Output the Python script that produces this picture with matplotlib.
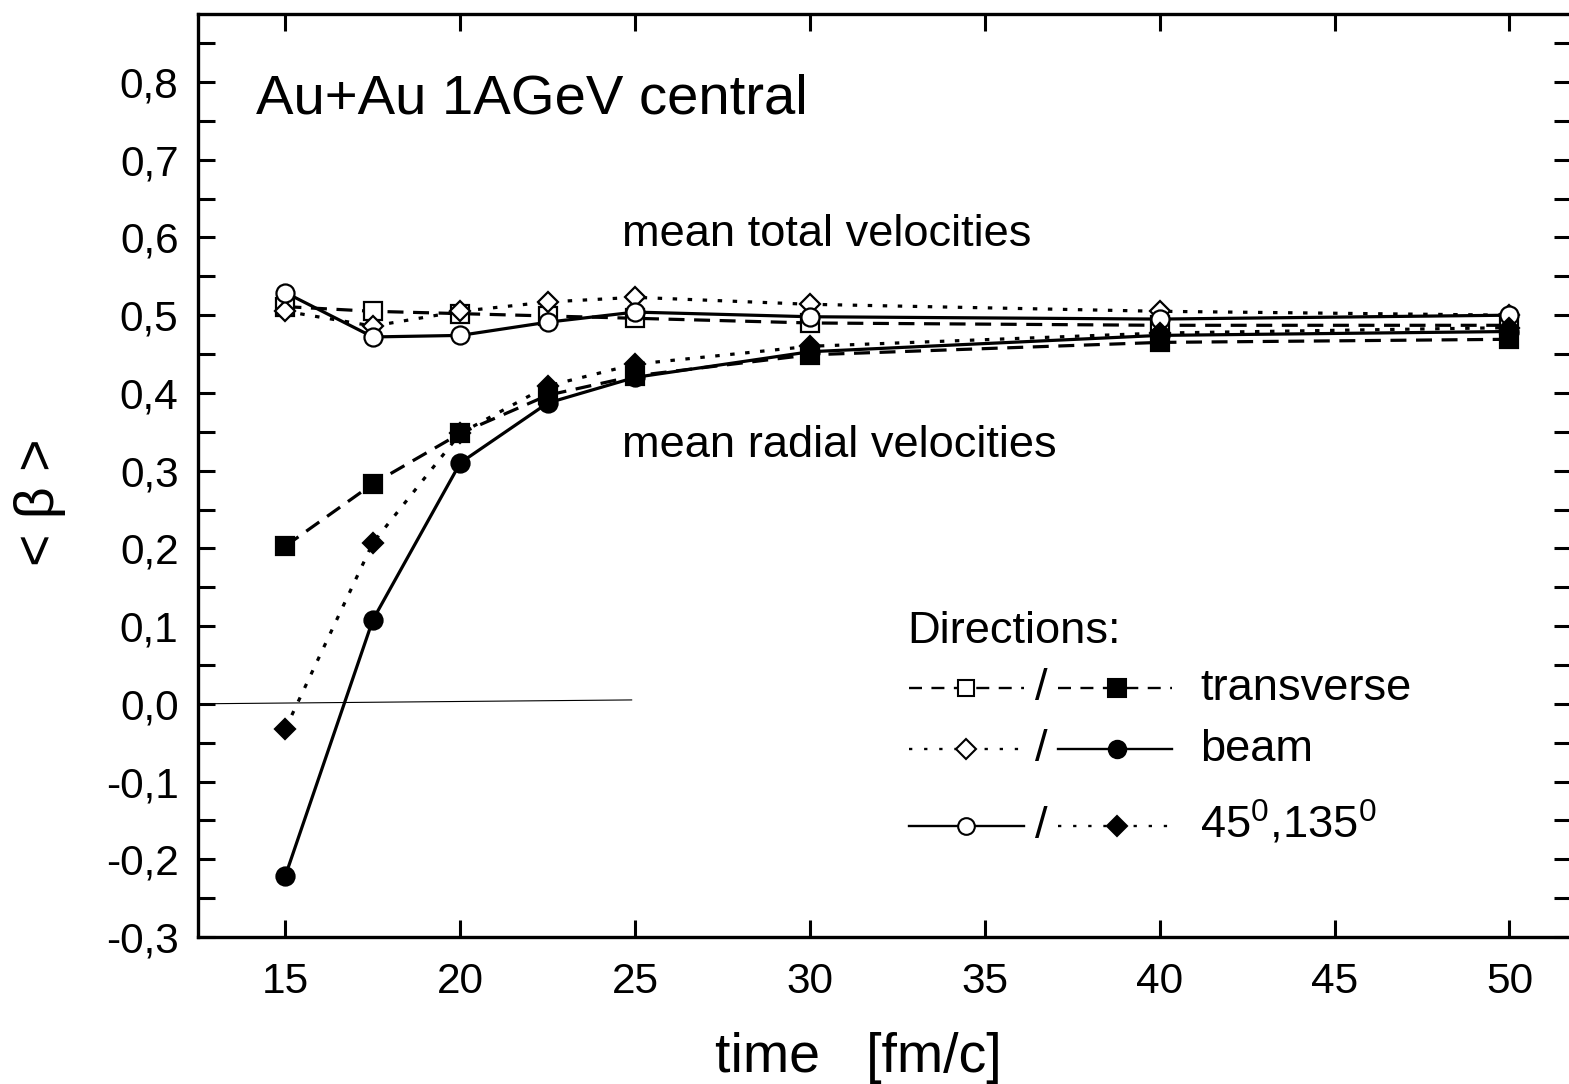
import matplotlib
matplotlib.use("Agg")
import matplotlib.pyplot as plt
from matplotlib.lines import Line2D

plt.rcParams['font.family'] = 'Liberation Sans'
plt.rcParams['mathtext.fontset'] = 'custom'
plt.rcParams['mathtext.rm'] = 'Liberation Sans'
plt.rcParams['mathtext.it'] = 'Liberation Sans'

# time in fm/c
time = [15, 17.5, 20, 22.5, 25, 30, 40, 50]

# mean total velocities (open symbols)
total_transverse = [0.511, 0.505, 0.502, 0.499, 0.496, 0.490, 0.487, 0.487]
total_beam = [0.505, 0.486, 0.505, 0.517, 0.523, 0.514, 0.505, 0.500]
total_45 = [0.529, 0.472, 0.474, 0.491, 0.504, 0.498, 0.495, 0.500]

# mean radial velocities (filled symbols)
radial_transverse = [0.203, 0.283, 0.348, 0.397, 0.422, 0.449, 0.465, 0.469]
radial_beam = [-0.221, 0.108, 0.310, 0.387, 0.420, 0.453, 0.474, 0.479]
radial_45 = [-0.032, 0.207, 0.348, 0.409, 0.437, 0.460, 0.477, 0.484]

# thin reference line near zero
zero_x = [12.5, 24.9]
zero_y = [0.0, 0.005]

xticks = [15, 20, 25, 30, 35, 40, 45, 50]
yticks = [-0.3, -0.2, -0.1, 0.0, 0.1, 0.2, 0.3, 0.4, 0.5, 0.6, 0.7, 0.8]
ytick_labels = ["-0,3", "-0,2", "-0,1", "0,0", "0,1", "0,2", "0,3",
                "0,4", "0,5", "0,6", "0,7", "0,8"]

W, H = 1569, 1084
fig = plt.figure(figsize=(W / 100, H / 100), dpi=100)


def fx(p):
    return p / W


def fy(p):
    return 1 - p / H


ax = fig.add_axes([fx(198), fy(937), (1571 - 198) / W, (937 - 14) / H])

dashed = dict(ls=(0, (5, 3)), lw=2.3, color='k', zorder=2)
dotted = dict(ls=(0, (1.4, 3.3)), lw=2.3, color='k', zorder=2)
solid = dict(ls='-', lw=2.3, color='k', zorder=2)

ax.plot(zero_x, zero_y, color='k', lw=0.8, zorder=1)

ax.plot(time, total_transverse, **dashed)
ax.plot(time, total_beam, **dotted)
ax.plot(time, total_45, **solid)
ax.plot(time, radial_transverse, **dashed)
ax.plot(time, radial_beam, **solid)
ax.plot(time, radial_45, **dotted)

mk = dict(ls='none', color='k', mec='k', mew=1.6, zorder=3)
ax.plot(time, total_transverse, marker='s', ms=12.5, mfc='white', **mk)
ax.plot(time, total_beam, marker='D', ms=10.5, mfc='white', **mk)
ax.plot(time, total_45, marker='o', ms=13, mfc='white', **mk)
ax.plot(time, radial_transverse, marker='s', ms=12.5, mfc='k', **mk)
ax.plot(time, radial_beam, marker='o', ms=13, mfc='k', **mk)
ax.plot(time, radial_45, marker='D', ms=10.5, mfc='k', **mk)

ax.set_xlim(12.5, 51.76)
ax.set_ylim(-0.3, 0.8875)
ax.set_xticks(xticks)
ax.set_xticks([12.5 + 2.5 * i for i in range(1, 16, 2)], minor=True)
ax.set_yticks(yticks)
ax.set_yticklabels(ytick_labels)
ax.set_yticks([-0.25 + 0.1 * i for i in range(12)], minor=True)

for s in ax.spines.values():
    s.set_linewidth(2.4)
ax.tick_params(which='both', direction='in', top=True, right=True, width=2.2,
               labelsize=30.5)
ax.tick_params(axis='x', which='major', length=12, pad=18)
ax.tick_params(axis='x', which='minor', length=6.5)
ax.tick_params(axis='y', which='both', length=12, pad=14)

ax.set_xlabel("time   [fm/c]", fontsize=40)
ax.xaxis.set_label_coords((858 - 198) / 1373, (937 - 1058) / 923)
ax.xaxis.label.set_va('center')
ax.set_ylabel("< \u03b2 >", fontsize=40)
ax.yaxis.set_label_coords((40 - 198) / 1373, (937 - 502) / 923)
ax.yaxis.label.set_va('center')

fig.text(fx(256), fy(113), "Au+Au 1AGeV central", fontsize=40.5, va='baseline')
fig.text(fx(622), fy(246), "mean total velocities", fontsize=32.6, va='baseline')
fig.text(fx(622), fy(457), "mean radial velocities", fontsize=32.6, va='baseline')

# legend drawn by hand
fig.text(fx(907), fy(643), "Directions:", fontsize=32.6, va='baseline')

rows = [688, 749, 826]
labels = ["transverse", "beam", "45$^{0}$,135$^{0}$"]
left_styles = [
    dict(ls=(0, (5.5, 4)), marker='s', ms=11.5, mfc='white'),
    dict(ls=(0, (1.4, 5)), marker='D', ms=10, mfc='white'),
    dict(ls='-', marker='o', ms=12, mfc='white'),
]
right_styles = [
    dict(ls=(0, (5.5, 4)), marker='s', ms=12.5, mfc='k'),
    dict(ls='-', marker='o', ms=12.5, mfc='k'),
    dict(ls=(0, (1.4, 5)), marker='D', ms=10.5, mfc='k'),
]
for ry, lab, ls_a, ls_b in zip(rows, labels, left_styles, right_styles):
    for (x0, x1, xm), st in (((909, 1024, 966), ls_a), ((1058, 1172, 1117), ls_b)):
        fig.add_artist(Line2D([fx(x0), fx(x1)], [fy(ry), fy(ry)],
                              transform=fig.transFigure, color='k', lw=1.7,
                              ls=st['ls']))
        fig.add_artist(Line2D([fx(xm)], [fy(ry)], transform=fig.transFigure,
                              color='k', mec='k', mew=1.5, ls='none',
                              marker=st['marker'], ms=st['ms'], mfc=st['mfc']))
    fig.text(fx(1041), fy(ry + 12), "/", fontsize=32.6, va='baseline', ha='center')
    fig.text(fx(1200), fy(ry + 12), lab, fontsize=32.6, va='baseline')

fig.savefig("out.png", dpi=100)
